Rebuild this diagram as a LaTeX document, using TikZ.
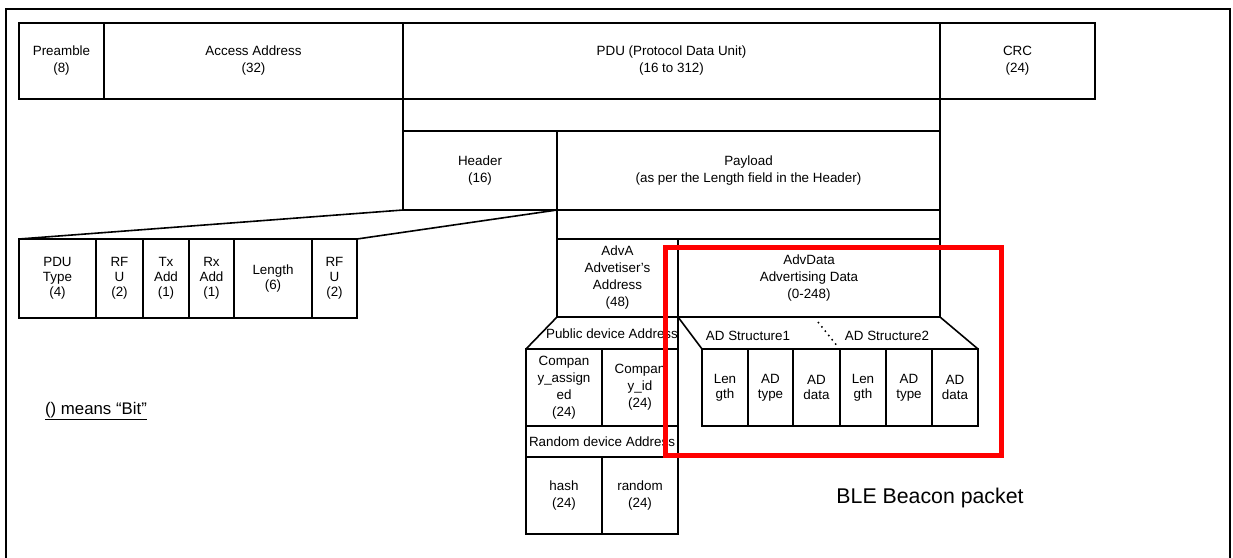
\documentclass[tikz,border=0pt]{standalone}
\usepackage{fontspec}
\setmainfont{Liberation Sans}
\usetikzlibrary{positioning}
\usepackage{xcolor}
\definecolor{hlred}{RGB}{255,0,0}
\definecolor{pktblack}{RGB}{0,0,0}
\tikzset{
    field/.style={
        draw=pktblack,line width=1.6pt,outer sep=0pt,inner sep=0pt,
        align=center,anchor=north west,
        font=\fontsize{13.4}{17}\selectfont
    },
    bandtext/.style={
        inner sep=0pt,font=\fontsize{13.4}{17}\selectfont
    },
    link/.style={
        draw=pktblack,line width=1.6pt
    }
}

\begin{document}
\begin{tikzpicture}[x=1pt,y=-1pt]

\useasboundingbox (0,0) rectangle (1233,557);
\draw[link] (6,9) rectangle (1230,575);

% packet
\node[field,minimum width=85pt,minimum height=76pt] (pre) at (19,23) {Preamble\\(8)};
\node[field,minimum width=299pt,minimum height=76pt,right=0pt of pre] (aa) {Access Address\\(32)};
\node[field,minimum width=537pt,minimum height=76pt,right=0pt of aa] (pdu) {PDU (Protocol Data Unit)\\(16 to 312)};
\node[field,minimum width=155pt,minimum height=76pt,right=0pt of pdu] (crc) {CRC\\(24)};

% PDU
\node[field,minimum width=537pt,minimum height=32pt,below=0pt of pdu] (pdugap) {};
\node[field,minimum width=154pt,minimum height=79pt] (hdr) at (pdugap.south west) {Header\\(16)};
\node[field,minimum width=383pt,minimum height=79pt,right=0pt of hdr] (pay) {Payload\\(as per the Length field in the Header)};
\node[field,minimum width=383pt,minimum height=29pt,below=0pt of pay] (paygap) {};
\node[field,minimum width=121pt,minimum height=78pt] (adva) at (paygap.south west) {AdvA\\Advetiser's\\Address\\(48)};
\node[field,minimum width=262pt,minimum height=78pt,right=0pt of adva] (advd) {AdvData\\Advertising Data\\(0-248)};

% header fields
\node[field,minimum width=77pt,minimum height=79pt,font=\fontsize{13.4}{15}\selectfont] (ptype) at (19,239) {PDU\\Type\\(4)};
\node[field,minimum width=47pt,minimum height=79pt,font=\fontsize{13.4}{15}\selectfont,right=0pt of ptype] (rfua) {RF\\U\\(2)};
\node[field,minimum width=46pt,minimum height=79pt,font=\fontsize{13.4}{15}\selectfont,right=0pt of rfua] (txa) {Tx\\Add\\(1)};
\node[field,minimum width=45pt,minimum height=79pt,font=\fontsize{13.4}{15}\selectfont,right=0pt of txa] (rxa) {Rx\\Add\\(1)};
\node[field,minimum width=78pt,minimum height=79pt,font=\fontsize{13.4}{15}\selectfont,right=0pt of rxa] (hlen) {Length\\(6)};
\node[field,minimum width=45pt,minimum height=79pt,font=\fontsize{13.4}{15}\selectfont,right=0pt of hlen] (rfub) {RF\\U\\(2)};
\draw[link] (hdr.south west) -- (ptype.north west);
\draw[link] (hdr.south east) -- (rfub.north east);

% advertiser address
\node[field,minimum width=76pt,minimum height=77pt] (casg) at (526,349) {Compan\\y\_assign\\ed\\(24)};
\node[field,minimum width=76pt,minimum height=77pt,right=0pt of casg] (cid) {Compan\\y\_id\\(24)};
\draw[link] (adva.south west) -- (casg.north west);
\draw[link] (adva.south east) -- (cid.north east);
\node[bandtext] (pub) at (612,334) {Public device Address};
\node[field,minimum width=152pt,minimum height=31pt] (rnd) at (casg.south west) {Random device Address};
\node[field,minimum width=76pt,minimum height=77pt] (hash) at (rnd.south west) {hash\\(24)};
\node[field,minimum width=76pt,minimum height=77pt,right=0pt of hash] (rand) {random\\(24)};

% advertising data
\node[field,minimum width=46pt,minimum height=77pt,font=\fontsize{13.4}{15}\selectfont] (lena) at (702,349) {Len\\gth};
\node[field,minimum width=45pt,minimum height=77pt,font=\fontsize{13.4}{15}\selectfont,right=0pt of lena] (typa) {AD\\type};
\node[field,minimum width=47pt,minimum height=77pt,font=\fontsize{13.4}{15}\selectfont,right=0pt of typa] (data) {AD\\data};
\node[field,minimum width=46pt,minimum height=77pt,font=\fontsize{13.4}{15}\selectfont,right=0pt of data] (lenb) {Len\\gth};
\node[field,minimum width=46pt,minimum height=77pt,font=\fontsize{13.4}{15}\selectfont,right=0pt of lenb] (typb) {AD\\type};
\node[field,minimum width=46pt,minimum height=77pt,font=\fontsize{13.4}{15}\selectfont,right=0pt of typb] (datb) {AD\\data};
\draw[link] (advd.south west) -- (lena.north west);
\draw[link] (advd.south east) -- (datb.north east);
\node[bandtext] (adsa) at (748,336) {AD Structure1};
\node[bandtext] (adsb) at (887,336) {AD Structure2};
\coordinate (dota) at (818,322);
\coordinate (dotb) at (838,347);
\draw[pktblack,line width=1.5pt,dash pattern=on 1.5pt off 4pt] (dota) -- (dotb);

% notes
\node[inner sep=0pt,font=\fontsize{16.8}{20}\selectfont] (bitnote) at (96,411) {\underline{() means “Bit”}};
\node[inner sep=0pt,font=\fontsize{21.3}{25}\selectfont] (title) at (930,498) {BLE Beacon packet};

\draw[hlred,line width=5pt] (665,247) rectangle (1001,455);

\end{tikzpicture}
\end{document}
